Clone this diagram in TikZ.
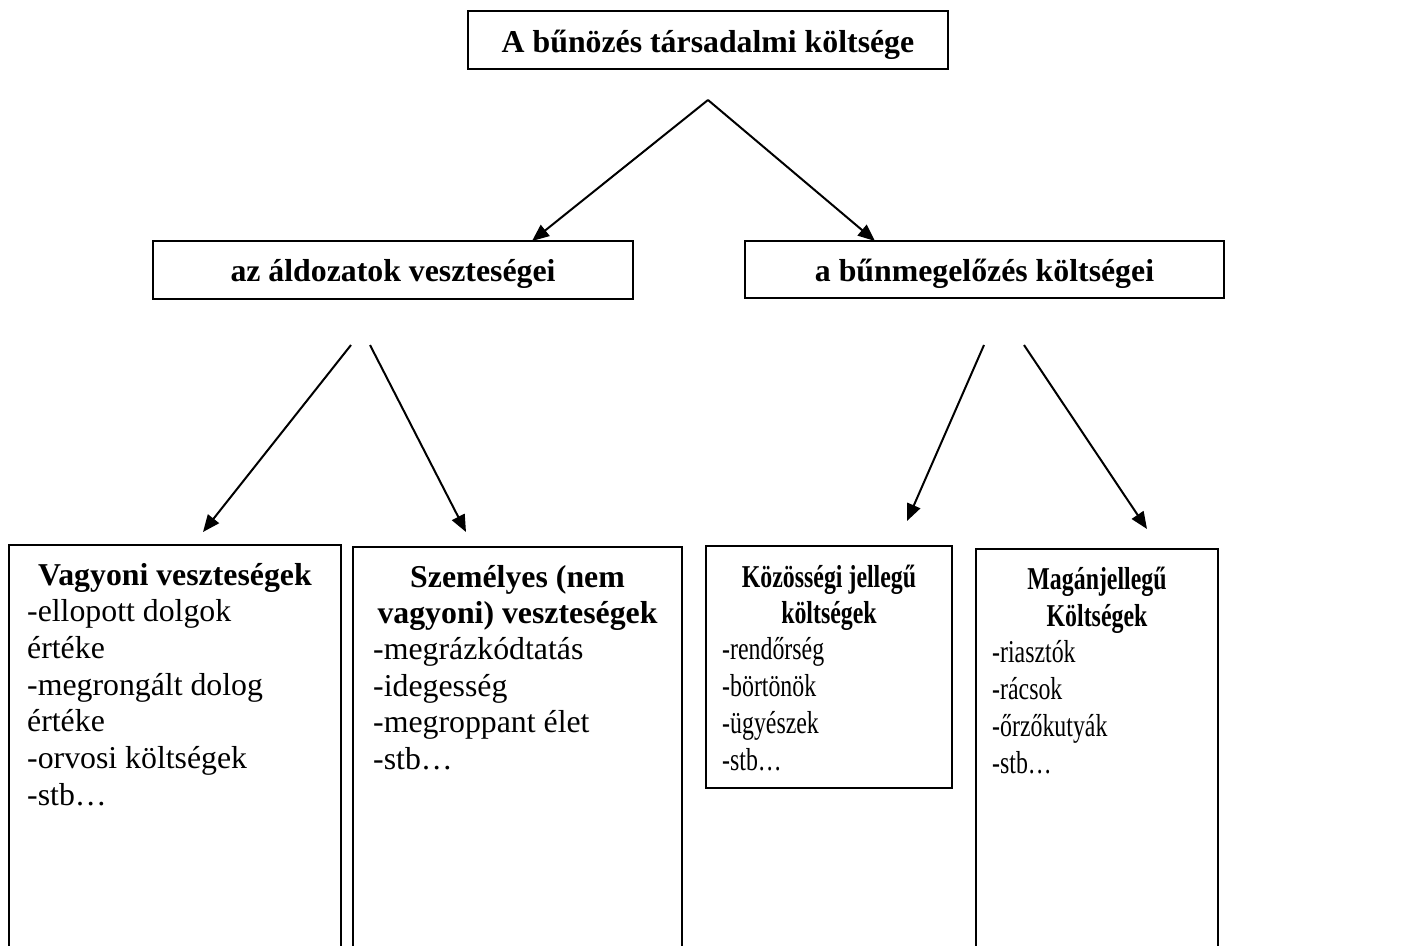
\documentclass[tikz,border=0pt]{standalone}
\usepackage{fontspec}
\setmainfont{Liberation Serif}
\usepackage{graphicx}
\usetikzlibrary{arrows.meta}
\begin{document}
\begin{tikzpicture}[x=1pt,y=-1pt,
  box/.style={draw, line width=2pt, inner sep=0pt},
  lbl/.style={inner sep=0pt, font=\fontsize{31.8}{36.6}\selectfont},
  ttl/.style={inner sep=0pt, font=\fontsize{31.8}{36.6}\selectfont\bfseries},
  conn/.style={line width=2pt, -{Triangle[length=17pt,width=14pt]}}]
\clip (0,0) rectangle (1402,945);
\fill[white] (0,0) rectangle (1402,945);

% boxes
\node[box, minimum width=480, minimum height=58] (top) at (708,40) {};
\node[box, minimum width=480, minimum height=58] (left) at (393,270) {};
\node[box, minimum width=479, minimum height=57] (right) at (984.5,269.5) {};
\node[box, minimum width=332, minimum height=455] (b1) at (175,772.5) {};
\node[box, minimum width=329, minimum height=453] (b2) at (517.5,773.5) {};
\node[box, minimum width=246, minimum height=242] (b3) at (829,667) {};
\node[box, minimum width=242, minimum height=451] (b4) at (1097,774.5) {};

% top and row 2 texts
\node[ttl, anchor=base] (toptxt) at (708,52) {A bűnözés társadalmi költsége};
\node[ttl, anchor=base] (lefttxt) at (393,281) {az áldozatok veszteségei};
\node[ttl, anchor=base] (righttxt) at (984.5,281) {a bűnmegelőzés költségei};

% box 1
\node[ttl, anchor=base] (b1t) at (175,585) {Vagyoni veszteségek};
\foreach \t [count=\i] in {-ellopott dolgok, értéke, -megrongált dolog, értéke, -orvosi költségek, -stb…}
  \node[lbl, anchor=base west] (b1l\i) at (27,585+36.7*\i) {\t};

% box 2
\node[ttl, anchor=base] (b2t1) at (517.5,587) {Személyes (nem};
\node[ttl, anchor=base] (b2t2) at (517.5,623) {vagyoni) veszteségek};
\foreach \t [count=\i] in {-megrázkódtatás, -idegesség, -megroppant élet, -stb…}
  \node[lbl, anchor=base west] (b2l\i) at (373,623+36.6*\i) {\t};

% box 3
\node[ttl, anchor=base] (b3t1) at (829,587) {\scalebox{0.75}[1]{Közösségi jellegű}};
\node[ttl, anchor=base] (b3t2) at (829,623) {\scalebox{0.75}[1]{költségek}};
\foreach \t [count=\i] in {-rendőrség, -börtönök, -ügyészek, -stb…}
  \node[lbl, anchor=base west] (b3l\i) at (722,623+36.8*\i) {\scalebox{0.75}[1]{\t}};

% box 4
\node[ttl, anchor=base] (b4t1) at (1097,589) {\scalebox{0.75}[1]{Magánjellegű}};
\node[ttl, anchor=base] (b4t2) at (1097,626) {\scalebox{0.75}[1]{Költségek}};
\foreach \t [count=\i] in {-riasztók, -rácsok, -őrzőkutyák, -stb…}
  \node[lbl, anchor=base west] (b4l\i) at (992,626+36.8*\i) {\scalebox{0.75}[1]{\t}};

% connector coordinates
\coordinate (t0) at (708,100);
\coordinate (t1) at (532,241);
\coordinate (t2) at (875,241);
\coordinate (l0a) at (351,345);
\coordinate (l1) at (203,532);
\coordinate (l0b) at (370,345);
\coordinate (l2) at (466,532);
\coordinate (r0a) at (984,345);
\coordinate (r1) at (907,521);
\coordinate (r0b) at (1024,345);
\coordinate (r2) at (1147,529);

\draw[conn] (t0) -- (t1);
\draw[conn] (t0) -- (t2);
\draw[conn] (l0a) -- (l1);
\draw[conn] (l0b) -- (l2);
\draw[conn] (r0a) -- (r1);
\draw[conn] (r0b) -- (r2);
\end{tikzpicture}
\end{document}
